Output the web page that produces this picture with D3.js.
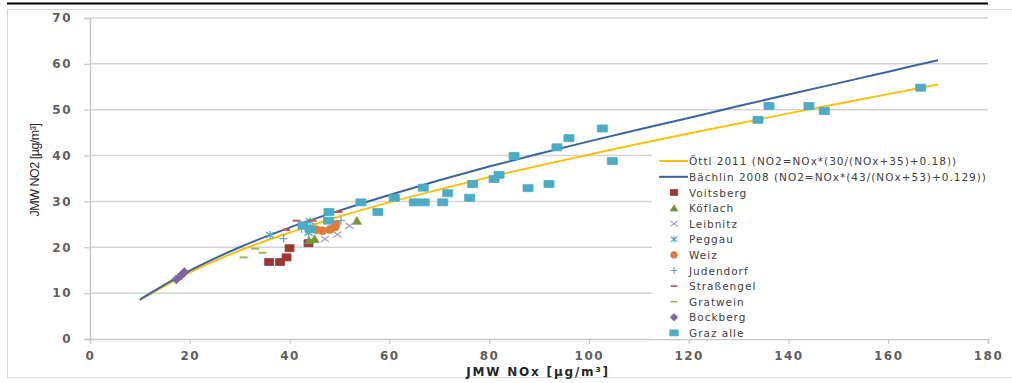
<!DOCTYPE html>
<html>
<head>
<meta charset="utf-8">
<script src="https://cdn.jsdelivr.net/npm/d3@7"></script>
<style>
    body { margin: 0; background: #fff; }
    svg { display: block; }
    .tick-label { font-family: "DejaVu Sans", sans-serif; font-weight: bold; font-size: 12px; fill: #5f5f5f; letter-spacing: 1.5px; }
    .legend-text { font-family: "DejaVu Sans", sans-serif; font-size: 10.5px; fill: #404040; letter-spacing: 1px; }
</style>
</head>
<body>
<svg id="chart" width="1012" height="383"></svg>
<script>
// curve points (NOx, NO2)
const oettlNOx = [10, 20, 30, 40, 50, 60, 70, 80, 90, 100, 110, 120, 130, 140, 150, 160, 170];
const oettlNO2 = [8.5, 14.5, 19.3, 23.2, 26.7, 29.8, 32.6, 35.3, 37.8, 40.2, 42.6, 44.8, 47.0, 49.2, 51.3, 53.4, 55.5];
const baechlinNOx = [10, 20, 30, 40, 50, 60, 70, 80, 90, 100, 110, 120, 130, 140, 150, 160, 170];
const baechlinNO2 = [8.6, 14.9, 20.0, 24.3, 28.0, 31.4, 34.6, 37.6, 40.4, 43.1, 45.7, 48.2, 50.8, 53.3, 55.8, 58.3, 60.8];

// station measurements [NOx, NO2]
const voitsberg = [[35.9, 16.8], [38.1, 16.8], [39.4, 17.8], [40.0, 19.8], [43.8, 20.9]];
const koeflach = [[43.9, 21.5], [45.0, 21.8], [53.5, 25.8]];
const leibnitz = [[47.1, 21.8], [49.6, 22.8], [52.0, 24.7]];
const peggau = [[36.1, 22.7], [43.8, 23.2], [44.1, 25.7]];
const weiz = [[45.4, 23.8], [46.6, 23.6], [48.1, 23.9], [49.1, 24.4], [49.3, 25.0]];
const judendorf = [[38.8, 21.9], [42.4, 24.0], [50.3, 25.8]];
const strassengel = [[39.3, 23.8], [41.4, 25.8], [44.6, 25.8], [49.8, 27.7]];
const gratwein = [[30.8, 17.8], [33.1, 19.7], [34.6, 18.8]];
const bockberg = [[17.3, 13.0], [18.2, 13.8], [18.9, 14.6]];
const grazAlle = [[42.7, 24.8], [44.1, 24.0], [47.8, 25.8], [47.9, 27.7], [54.3, 29.8], [57.7, 27.7],
    [61.0, 30.8], [65.0, 29.8], [67.0, 29.8], [66.8, 33.0], [70.7, 29.8], [71.7, 31.8], [76.1, 30.8],
    [76.7, 33.8], [81.0, 34.9], [82.0, 35.8], [85.0, 39.9], [87.8, 32.9], [92.0, 33.8], [93.6, 41.8],
    [96.0, 43.8], [102.7, 45.9], [104.7, 38.8], [133.9, 47.8], [136.1, 50.8], [144.1, 50.8],
    [147.2, 49.7], [166.5, 54.8]];

const xTicks = [0, 20, 40, 60, 80, 100, 120, 140, 160, 180];
const yTicks = [0, 10, 20, 30, 40, 50, 60, 70];

const lineNames = ["Öttl 2011  (NO2=NOx*(30/(NOx+35)+0.18))", "Bächlin 2008  (NO2=NOx*(43/(NOx+53)+0.129))"];
const stationNames = ["Voitsberg", "Köflach", "Leibnitz", "Peggau", "Weiz", "Judendorf", "Straßengel", "Gratwein", "Bockberg", "Graz alle"];

// marker shapes drawn around 0,0
const shapes = {
    square: "M-4.5,-3.5h9v7h-9z",
    wide: "M-5,-3.5h10v7h-10z",
    triangle: "M0,-4L4.5,3.5L-4.5,3.5z",
    x: "M-4,-3L4,3M-4,3L4,-3",
    asterisk: "M-4,-3L4,3M-4,3L4,-3M0,-4V4",
    circle: "M-4,0a4,4 0 1,0 8,0a4,4 0 1,0 -8,0",
    plus: "M-4,0H4M0,-4V4",
    dash: "M-4,0H4",
    diamond: "M0,-4.5L4.5,0L0,4.5L-4.5,0z"
};

const series = [
    { data: voitsberg, shape: "square", color: "#9b3734", fill: true },
    { data: koeflach, shape: "triangle", color: "#77933c", fill: true },
    { data: leibnitz, shape: "x", color: "#a99bc0", fill: false },
    { data: peggau, shape: "asterisk", color: "#4bacc6", fill: false },
    { data: weiz, shape: "circle", color: "#e07b39", fill: true },
    { data: judendorf, shape: "plus", color: "#6f9bd0", fill: false },
    { data: strassengel, shape: "dash", color: "#d0534f", fill: false },
    { data: gratwein, shape: "dash", color: "#9bbb59", fill: false },
    { data: bockberg, shape: "diamond", color: "#8064a2", fill: true },
    { data: grazAlle, shape: "wide", color: "#4bacc6", fill: true }
];

const svg = d3.select("#chart");

// document fragment above the chart
svg.append("line").attr("x1", 7).attr("x2", 988).attr("y1", 3.5).attr("y2", 3.5)
    .attr("stroke", "#000").attr("stroke-width", 2);
svg.append("rect").attr("x", 7.5).attr("y", 9.5).attr("width", 1010).attr("height", 368)
    .attr("fill", "none").attr("stroke", "#d9d9d9");

const x = d3.scaleLinear().domain([0, 180]).range([90, 988]);
const y = d3.scaleLinear().domain([0, 70]).range([339, 18]);

// gridlines
svg.append("g").selectAll("line")
    .data(yTicks.filter(d => d > 0))
    .join("line")
    .attr("x1", x(0)).attr("x2", x(180))
    .attr("y1", d => y(d)).attr("y2", d => y(d))
    .attr("stroke", "#d3d3d3").attr("stroke-width", 1.5);

// axes
const xAxis = svg.append("g").attr("transform", `translate(0,${y(0)})`)
    .call(d3.axisBottom(x).tickValues(xTicks).tickSize(5).tickPadding(7));
const yAxis = svg.append("g").attr("transform", `translate(${x(0)},0)`)
    .call(d3.axisLeft(y).tickValues(yTicks).tickSize(6).tickPadding(12));
[xAxis, yAxis].forEach(a => {
    a.select(".domain").attr("stroke", "#c8c8c8").attr("stroke-width", 1.5);
    a.selectAll(".tick line").attr("stroke", "#c8c8c8").attr("stroke-width", 1.2);
    a.selectAll(".tick text").attr("class", "tick-label").attr("fill", null);
});

// axis titles
svg.append("text")
    .attr("x", 538).attr("y", 376)
    .attr("text-anchor", "middle")
    .style("font-family", "DejaVu Sans, sans-serif").style("font-weight", "bold")
    .style("font-size", "12px").style("letter-spacing", "1.8px").style("fill", "#262626")
    .text("JMW NOx [µg/m³]");
svg.append("text")
    .attr("transform", "translate(39,170) rotate(-90)")
    .attr("text-anchor", "middle")
    .style("font-family", "Liberation Sans, sans-serif")
    .style("font-size", "12.5px").style("letter-spacing", "-0.5px").style("fill", "#262626")
    .text("JMW NO2 [µg/m³]");

// the two model curves
const line = d3.line().x(d => x(d[0])).y(d => y(d[1])).curve(d3.curveMonotoneX);
svg.append("path")
    .datum(oettlNOx.map((v, i) => [v, oettlNO2[i]]))
    .attr("d", line).attr("fill", "none").attr("stroke", "#fbc10a").attr("stroke-width", 2);
svg.append("path")
    .datum(baechlinNOx.map((v, i) => [v, baechlinNO2[i]]))
    .attr("d", line).attr("fill", "none").attr("stroke", "#3a64a0").attr("stroke-width", 2);

// station markers
series.forEach(s => {
    svg.append("g").selectAll("path")
        .data(s.data)
        .join("path")
        .attr("transform", d => `translate(${x(d[0])},${y(d[1])})`)
        .attr("d", shapes[s.shape])
        .attr("fill", s.fill ? s.color : "none")
        .attr("stroke", s.color)
        .attr("stroke-width", s.fill ? 0.8 : (s.shape === "dash" ? 2 : 1.3));
});

// legend
const legend = svg.append("g");
legend.append("rect").attr("x", 652).attr("y", 149).attr("width", 348).attr("height", 190).attr("fill", "#fff");

const lineColors = ["#fbc10a", "#3a64a0"];
lineNames.forEach((name, i) => {
    const ly = 161 + i * 15.8;
    legend.append("line").attr("x1", 659).attr("x2", 688).attr("y1", ly).attr("y2", ly)
        .attr("stroke", lineColors[i]).attr("stroke-width", 2);
    legend.append("text").attr("class", "legend-text").attr("x", 689).attr("y", ly + 4).text(name);
});
stationNames.forEach((name, i) => {
    const ly = 192.5 + i * 15.6;
    const s = series[i];
    legend.append("path")
        .attr("transform", `translate(674,${ly}) scale(0.85)`)
        .attr("d", shapes[s.shape])
        .attr("fill", s.fill ? s.color : "none")
        .attr("stroke", s.color)
        .attr("stroke-width", s.fill ? 0.8 : (s.shape === "dash" ? 2 : 1.3));
    legend.append("text").attr("class", "legend-text").attr("x", 689).attr("y", ly + 4).text(name);
});
</script>
</body>
</html>
